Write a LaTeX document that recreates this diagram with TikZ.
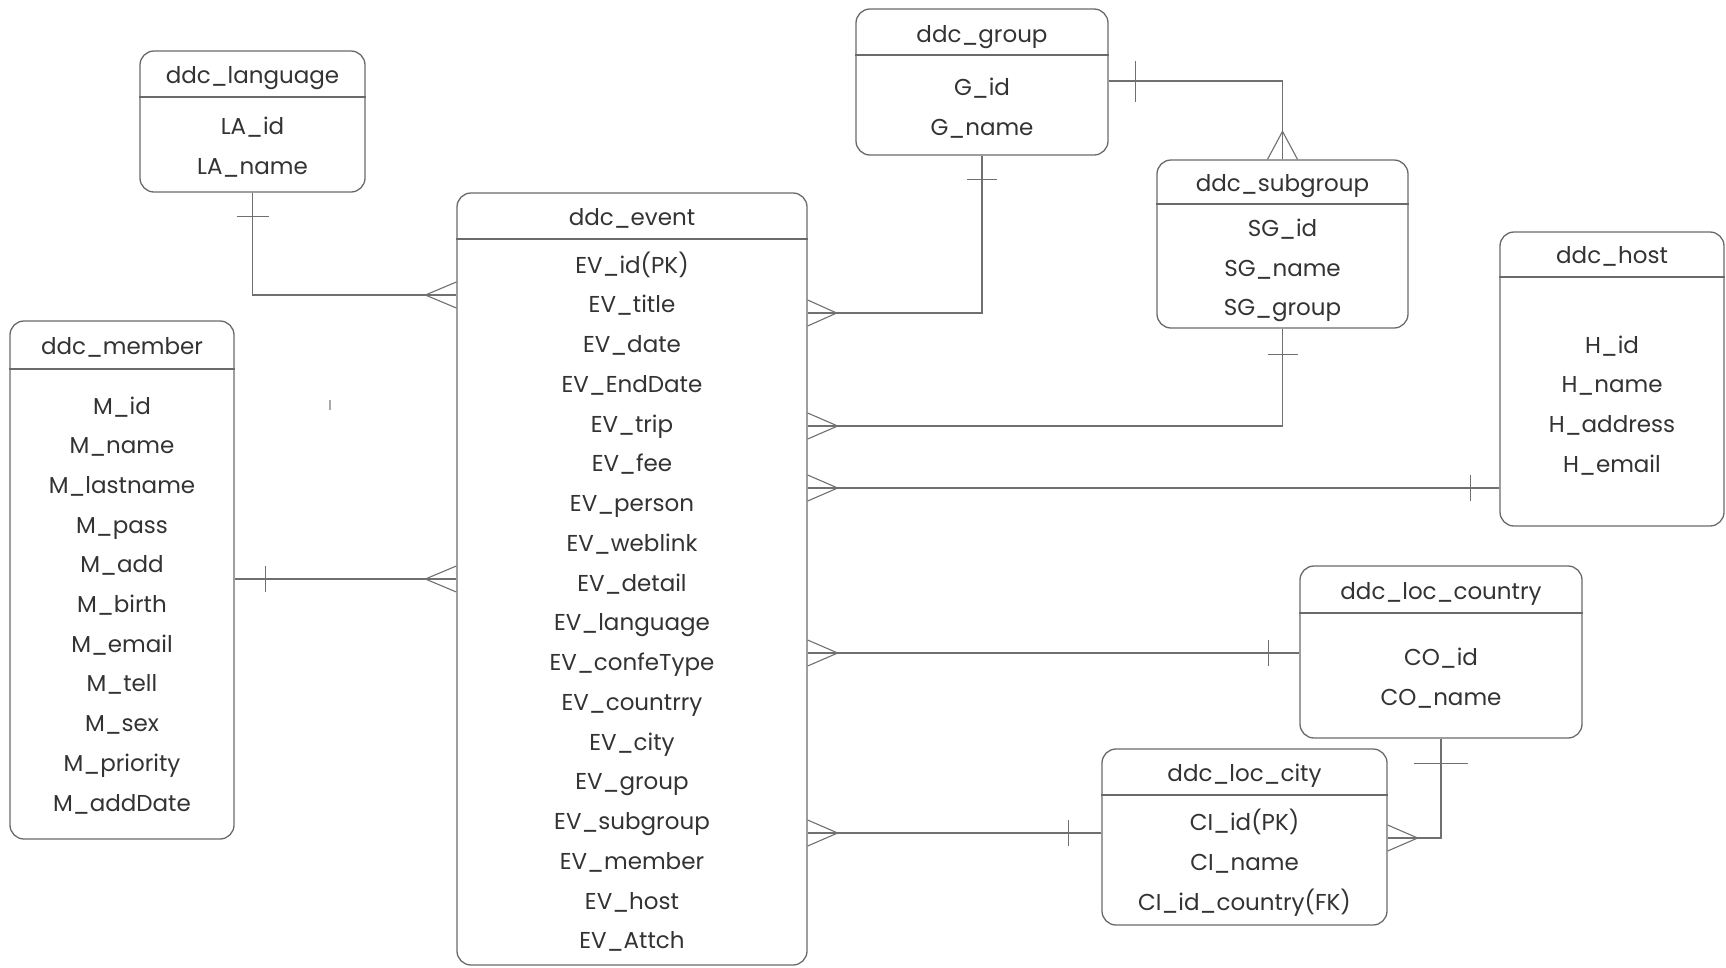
\documentclass[tikz,border=0pt]{standalone}
\usepackage{fontspec}
\setmainfont{Poppins}
\definecolor{boxgray}{HTML}{6A6A6A}
\definecolor{lngray}{HTML}{707070}
\definecolor{txt}{HTML}{333333}
\begin{document}
\begin{tikzpicture}[x=1pt,y=-1pt,
  erbox/.style={draw=boxgray, line width=1.3pt, rounded corners=14pt, inner sep=0pt},
  hdr/.style={draw=boxgray, line width=1.1pt},
  fld/.style={font=\fontsize{23}{27}\selectfont, text=txt, inner sep=0pt,
    text height=17pt, text depth=3pt, anchor=center},
  conn/.style={draw=lngray, line width=1.1pt},
]
\fill[white] (0,0) rectangle (1726,967);
\useasboundingbox (0,0) rectangle (1726,967);

% ---------- entities ----------
% ddc_language
\node[erbox, minimum width=225pt, minimum height=141pt] (lang) at (252.5,121.5) {};
\draw[hdr] (lang.west |- 0,97) -- (lang.east |- 0,97);
\node[fld] (lang-t) at (252.5,76) {ddc\_language};
\node[fld] (lang-1) at (252.5,127) {LA\_id};
\node[fld] (lang-2) at (252.5,167) {LA\_name};

% ddc_group
\node[erbox, minimum width=252pt, minimum height=146pt] (grp) at (982,82) {};
\draw[hdr] (grp.west |- 0,55) -- (grp.east |- 0,55);
\node[fld] (grp-t) at (982,35) {ddc\_group};
\node[fld] (grp-1) at (982,88) {G\_id};
\node[fld] (grp-2) at (982,128) {G\_name};

% ddc_subgroup
\node[erbox, minimum width=251pt, minimum height=168pt] (sg) at (1282.5,244) {};
\draw[hdr] (sg.west |- 0,204) -- (sg.east |- 0,204);
\node[fld] (sg-t) at (1282.5,184) {ddc\_subgroup};
\node[fld] (sg-1) at (1282.5,229) {SG\_id};
\node[fld] (sg-2) at (1282.5,269) {SG\_name};
\node[fld] (sg-3) at (1282.5,308) {SG\_group};

% ddc_host
\node[erbox, minimum width=224pt, minimum height=294pt] (host) at (1612,379) {};
\draw[hdr] (host.west |- 0,277) -- (host.east |- 0,277);
\node[fld] (host-t) at (1612,256) {ddc\_host};
\node[fld] (host-1) at (1612,346) {H\_id};
\node[fld] (host-2) at (1612,385) {H\_name};
\node[fld] (host-3) at (1612,425) {H\_address};
\node[fld] (host-4) at (1612,465) {H\_email};

% ddc_member
\node[erbox, minimum width=224pt, minimum height=518pt] (mem) at (122,580) {};
\draw[hdr] (mem.west |- 0,369) -- (mem.east |- 0,369);
\node[fld] (mem-t) at (122,347) {ddc\_member};
\foreach \t [count=\i] in {M\_id, M\_name, M\_lastname, M\_pass, M\_add, M\_birth,
    M\_email, M\_tell, M\_sex, M\_priority, M\_addDate}
  \node[fld] (mem-\i) at (122,{407+39.7*(\i-1)}) {\t};

% ddc_event
\node[erbox, minimum width=350pt, minimum height=772pt] (ev) at (632,579) {};
\draw[hdr] (ev.west |- 0,239) -- (ev.east |- 0,239);
\node[fld] (ev-t) at (632,218) {ddc\_event};
\foreach \t [count=\i] in {EV\_id(PK), EV\_title, EV\_date, EV\_EndDate, EV\_trip,
    EV\_fee, EV\_person, EV\_weblink, EV\_detail, EV\_language, EV\_confeType,
    EV\_countrry, EV\_city, EV\_group, EV\_subgroup, EV\_member, EV\_host, EV\_Attch}
  \node[fld] (ev-\i) at (632,{266+39.76*(\i-1)}) {\t};

% ddc_loc_country
\node[erbox, minimum width=282pt, minimum height=172pt] (co) at (1441,652) {};
\draw[hdr] (co.west |- 0,613) -- (co.east |- 0,613);
\node[fld] (co-t) at (1441,592) {ddc\_loc\_country};
\node[fld] (co-1) at (1441,658) {CO\_id};
\node[fld] (co-2) at (1441,698) {CO\_name};

% ddc_loc_city
\node[erbox, minimum width=285pt, minimum height=176pt] (ci) at (1244.5,837) {};
\draw[hdr] (ci.west |- 0,795) -- (ci.east |- 0,795);
\node[fld] (ci-t) at (1244.5,774) {ddc\_loc\_city};
\node[fld] (ci-1) at (1244.5,823) {CI\_id(PK)};
\node[fld] (ci-2) at (1244.5,863) {CI\_name};
\node[fld] (ci-3) at (1244.5,903) {CI\_id\_country(FK)};

% ---------- relationships ----------
% language -> event
\coordinate (j1) at (ev.west |- 0,295);
\draw[conn] (lang.south) |- (j1);
\draw[conn] ([shift={(-16,24)}]lang.south) -- ++(32,0);
\draw[conn] ([shift={(0,-13)}]j1) -- ([shift={(-31,0)}]j1) -- ([shift={(0,13)}]j1);

% group -> event
\coordinate (j2) at (ev.east |- 0,313);
\draw[conn] (grp.south) |- (j2);
\draw[conn] ([shift={(-15,24)}]grp.south) -- ++(30,0);
\draw[conn] ([shift={(0,-13)}]j2) -- ([shift={(29,0)}]j2) -- ([shift={(0,13)}]j2);

% group -> subgroup
\coordinate (j3) at (grp.east |- 0,81);
\draw[conn] (j3) -| (sg.north);
\draw[conn] ([shift={(27,-20)}]j3) -- ++(0,41);
\draw[conn] ([shift={(-15,0)}]sg.north) -- ([shift={(0,-28)}]sg.north) -- ([shift={(15,0)}]sg.north);

% subgroup -> event
\coordinate (j4) at (ev.east |- 0,426);
\draw[conn] (sg.south) |- (j4);
\draw[conn] ([shift={(-15,26)}]sg.south) -- ++(30,0);
\draw[conn] ([shift={(0,-13)}]j4) -- ([shift={(30,0)}]j4) -- ([shift={(0,13)}]j4);

% host -> event
\coordinate (j5) at (ev.east |- 0,488);
\coordinate (h5) at (host.west |- 0,488);
\draw[conn] (h5) -- (j5);
\draw[conn] ([shift={(-29,-13)}]h5) -- ++(0,26);
\draw[conn] ([shift={(0,-13)}]j5) -- ([shift={(30,0)}]j5) -- ([shift={(0,13)}]j5);

% member -> event
\coordinate (j6) at (ev.west |- 0,579);
\coordinate (m6) at (mem.east |- 0,579);
\draw[conn] (m6) -- (j6);
\draw[conn] ([shift={(31,-13)}]m6) -- ++(0,26);
\draw[conn] ([shift={(0,-13)}]j6) -- ([shift={(-31,0)}]j6) -- ([shift={(0,13)}]j6);

% country -> event
\coordinate (j7) at (ev.east |- 0,653);
\coordinate (c7) at (co.west |- 0,653);
\draw[conn] (c7) -- (j7);
\draw[conn] ([shift={(-31,-13)}]c7) -- ++(0,26);
\draw[conn] ([shift={(0,-13)}]j7) -- ([shift={(30,0)}]j7) -- ([shift={(0,13)}]j7);

% city -> event
\coordinate (j8) at (ev.east |- 0,833);
\coordinate (c8) at (ci.west |- 0,833);
\draw[conn] (c8) -- (j8);
\draw[conn] ([shift={(-33,-13)}]c8) -- ++(0,26);
\draw[conn] ([shift={(0,-13)}]j8) -- ([shift={(30,0)}]j8) -- ([shift={(0,13)}]j8);

% country -> city
\coordinate (j9) at (ci.east |- 0,838);
\draw[conn] (co.south) |- (j9);
\draw[conn] ([shift={(-27,25)}]co.south) -- ++(54,0);
\draw[conn] ([shift={(0,-13)}]j9) -- ([shift={(30,0)}]j9) -- ([shift={(0,13)}]j9);

% small pen mark
\draw[draw=lngray!60, line width=1.2pt] (330,400) -- (330,410);
\end{tikzpicture}
\end{document}
